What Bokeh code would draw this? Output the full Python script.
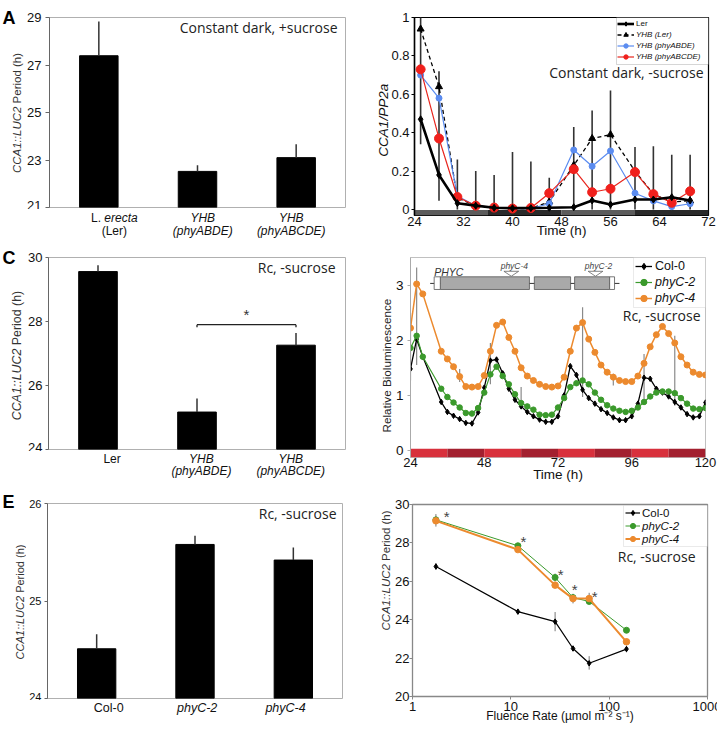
import math
from bokeh.plotting import figure
from bokeh.models import Range1d, FixedTicker, Label, Legend, LegendItem, BoxAnnotation
from bokeh.layouts import row, column
from bokeh.embed import file_html
from bokeh.resources import INLINE

SANS = "Liberation Sans"
HUM = "Open Sans"
NBSP = "\u00a0"

# ---------------- Panel A : period, constant dark, +sucrose ----------------
a_cat_line1 = [[("L. ", "normal"), ("erecta", "italic")], [("YHB", "italic")], [("YHB", "italic")]]
a_cat_line2 = [[("(Ler)", "normal")], [("(phyABDE)", "italic")], [("(phyABCDE)", "italic")]]
a_period = [27.39, 22.52, 23.10]
a_err_top = [28.83, 22.78, 23.66]
a_yticks = [21, 23, 25, 27, 29]

# ---------------- Panel B : CCA1/PP2a, constant dark, -sucrose ----------------
b_time = [25, 28, 31, 34, 37, 40, 43, 46, 50, 53, 56, 60, 63, 66, 69]
b_ler = [0.47, 0.18, 0.033, 0.02, 0.009, 0.007, 0.007, 0.009, 0.012, 0.047, 0.026, 0.052, 0.052, 0.064, 0.047]
b_yhb_ler = [0.94, 0.64, 0.06, 0.02, 0.01, 0.005, 0.005, 0.04, 0.23, 0.37, 0.39, 0.20, 0.08, 0.04, 0.045]
b_yhb_abde = [0.70, 0.58, 0.07, 0.02, 0.01, 0.005, 0.005, 0.03, 0.31, 0.225, 0.305, 0.085, 0.045, 0.015, 0.03]
b_yhb_abcde = [0.73, 0.37, 0.065, 0.02, 0.01, 0.005, 0.008, 0.085, 0.21, 0.09, 0.108, 0.195, 0.08, 0.035, 0.095]
b_err_lo = [0.34, 0.045, 0, 0, 0, 0, 0, 0, 0, 0, 0, 0, 0, 0, 0]
b_err_hi = [1.02, 0.72, 0.26, 0.20, 0.18, 0.30, 0.25, 0.165, 0.43, 0.515, 0.62, 0.325, 0.33, 0.285, 0.285]
b_xticks = [24, 32, 40, 48, 56, 64, 72]
b_yticks = [0, 0.2, 0.4, 0.6, 0.8, 1.0]
b_ytick_labels = ["0", "0.2", "0.4", "0.6", "0.8", "1"]
b_phase_start = [24, 36, 48, 60]
b_phase_end = [36, 48, 60, 72]

# ---------------- Panel C : period, Rc, -sucrose ----------------
c_cat_line1 = [[("Ler", "normal")], [("YHB", "italic")], [("YHB", "italic")]]
c_cat_line2 = [[("", "normal")], [("(phyABDE)", "italic")], [("(phyABCDE)", "italic")]]
c_period = [29.56, 25.17, 27.26]
c_err_top = [29.76, 25.59, 27.64]
c_yticks = [24, 26, 28, 30]
c_sig_pair = [2, 3]
c_sig_level = 27.9

# ---------------- Panel D : bioluminescence traces ----------------
d_time = [24, 26, 28, 34, 36, 38, 40, 42, 44, 46, 48, 50, 52, 54, 56, 58, 60, 62, 64, 66, 68, 70, 72,
          74, 76, 78, 80, 82, 84, 86, 88, 90, 92, 94, 96, 98, 100, 102, 104, 106, 108, 110, 112, 114,
          116, 118, 120]
d_col0 = [1.48, 2.02, 1.70, 0.88, 0.70, 0.63, 0.57, 0.50, 0.49, 0.69, 1.14, 1.63, 1.65, 1.40, 1.12,
          0.92, 0.80, 0.70, 0.62, 0.56, 0.52, 0.52, 0.62, 1.00, 1.53, 1.37, 1.10, 0.95, 0.85, 0.75,
          0.68, 0.60, 0.55, 0.55, 0.62, 0.85, 1.32, 1.30, 1.12, 1.05, 0.98, 0.88, 0.78, 0.66, 0.60,
          0.62, 0.87]
d_phyc2 = [1.86, 2.08, 1.70, 1.12, 0.97, 0.87, 0.78, 0.68, 0.67, 0.77, 1.05, 1.38, 1.52, 1.35, 1.20,
           1.02, 0.86, 0.80, 0.74, 0.65, 0.64, 0.65, 0.78, 0.95, 1.15, 1.22, 1.27, 1.20, 1.05, 0.92,
           0.82, 0.76, 0.72, 0.70, 0.72, 0.78, 0.88, 0.98, 1.05, 1.07, 1.07, 1.04, 0.95, 0.85, 0.76,
           0.75, 0.77]
d_phyc4 = [2.22, 3.02, 2.84, 1.80, 1.66, 1.52, 1.34, 1.16, 1.15, 1.16, 1.36, 1.80, 2.27, 2.33, 2.05,
           1.80, 1.50, 1.35, 1.27, 1.20, 1.16, 1.15, 1.17, 1.33, 1.80, 2.22, 2.32, 2.02, 1.78, 1.55,
           1.42, 1.33, 1.27, 1.25, 1.25, 1.35, 1.58, 1.88, 2.10, 2.25, 2.12, 1.95, 1.70, 1.55, 1.42,
           1.38, 1.37]
d_err_t = [24, 26, 40, 50, 60, 80, 90, 100, 110]
d_err_lo = [1.27, 1.55, 1.24, 1.20, 0.90, 0.97, 1.18, 0.88, 0.81]
d_err_hi = [2.50, 3.32, 1.48, 1.95, 1.15, 2.60, 1.39, 1.75, 2.08]
d_xticks = [24, 48, 72, 96, 120]
d_yticks = [0, 1, 2, 3]
d_phase_start = [24, 36, 48, 60, 72, 84, 96, 108]
d_phase_end = [36, 48, 60, 72, 84, 96, 108, 120]
# PHYC gene schematic (drawn in panel D data units)
phyc_span = [30.4, 92.0]
phyc_exon_start = [33.7, 64.3, 77.4]
phyc_exon_end = [62.7, 76.1, 88.8]
phyc_utr_start = [31.7, 88.8]
phyc_utr_end = [33.7, 90.4]
phyc_allele_names = ["phyC-4", "phyC-2"]
phyc_allele_pos = [56.8, 84.2]

# ---------------- Panel E : period Col-0 vs phyC ----------------
e_cat_line1 = [[("Col-0", "normal")], [("phyC-2", "italic")], [("phyC-4", "italic")]]
e_period = [24.51, 25.58, 25.42]
e_err_top = [24.66, 25.67, 25.55]
e_yticks = [24, 25, 26]

# ---------------- Panel F : period vs fluence ----------------
f_fluence = [1.73, 11.8, 28.2, 42.9, 62.6, 150]
f_col0 = [26.77, 24.42, 23.90, 22.50, 21.73, 22.47]
f_col0_lo = [26.60, 24.30, 23.40, 22.40, 21.40, 22.30]
f_col0_hi = [26.95, 24.55, 24.40, 22.60, 22.10, 22.65]
f_phyc2 = [29.20, 27.85, 26.20, 25.15, 24.95, 23.45]
f_phyc2_lo = [29.05, 27.75, 26.00, 25.00, 24.85, 23.35]
f_phyc2_hi = [29.35, 27.95, 26.40, 25.30, 25.05, 23.55]
f_phyc4 = [29.15, 27.65, 25.80, 25.10, 25.10, 22.85]
f_phyc4_lo = [28.85, 27.55, 25.70, 24.85, 24.80, 22.70]
f_phyc4_hi = [29.50, 27.80, 25.95, 25.35, 25.40, 23.00]
f_star_x = [2.22, 13.4, 32.1, 44.5, 71.3]
f_star_y = [29.51, 28.21, 26.53, 25.73, 25.38]
f_xticks = [1, 10, 100, 1000]
f_yticks = [20, 22, 24, 26, 28, 30]

# ---------------- helpers ----------------
AW = {' ': 278, '(': 333, ')': 333, '.': 278, ':': 278, '-': 333, '/': 278, ',': 278,
      'A': 667, 'B': 667, 'C': 722, 'D': 722, 'E': 667, 'F': 611, 'H': 722, 'L': 556, 'P': 667,
      'R': 722, 'T': 611, 'U': 722, 'Y': 667,
      'a': 556, 'b': 556, 'c': 500, 'd': 556, 'e': 556, 'f': 278, 'g': 556, 'h': 556, 'i': 222,
      'k': 500, 'l': 222, 'm': 833, 'n': 556, 'o': 556, 'p': 556, 'r': 333, 's': 500, 't': 278,
      'u': 556, 'v': 500, 'y': 500}


def tw(s, size):
    return sum(AW.get(ch, 556) for ch in s) * size / 1000.0


def add_label(p, text, x, y, size, font=SANS, style="normal", align="left", baseline="middle",
              color="#111", xu="screen", yu="screen", angle=0.0, x_offset=0, y_offset=0):
    p.add_layout(Label(x=x, y=y, x_units=xu, y_units=yu, text=text, text_font=font,
                       text_font_size=f"{size}px", text_font_style=style, text_align=align,
                       text_baseline=baseline, text_color=color, angle=angle,
                       x_offset=x_offset, y_offset=y_offset))


def hmixed(p, parts, x, y, size, color="#111"):
    total = sum(tw(t, size) for t, _ in parts)
    off = -total / 2.0
    for t, st in parts:
        if t.strip():
            add_label(p, t.rstrip(), x, y, size, style=st, xu="data", x_offset=off, color=color)
        off += tw(t, size)


def vmixed(p, parts, x, yc, size, color="#333"):
    total = sum(tw(t, size) for t, _ in parts)
    y = yc - total / 2.0
    for t, st in parts:
        add_label(p, t.rstrip(), x, y, size, style=st, angle=math.pi / 2, color=color)
        y += tw(t, size)


def mkfig(fw, fh, bl, br, bt, bb, xr, yr, x_axis_type="linear", x_axis_location="below"):
    p = figure(frame_width=fw, frame_height=fh, min_border_left=bl, min_border_right=br,
               min_border_top=bt, min_border_bottom=bb, x_range=xr, y_range=yr,
               x_axis_type=x_axis_type, x_axis_location=x_axis_location,
               toolbar_location=None, output_backend="svg", title=None)
    p.xgrid.visible = False
    p.ygrid.visible = False
    p.background_fill_color = "white"
    p.border_fill_color = "white"
    return p


def textfig(w, h, xr=None):
    p = figure(width=w, height=h, x_range=xr if xr is not None else Range1d(0, 1),
               y_range=Range1d(0, 1), x_axis_location=None, y_axis_location=None, min_border=0,
               toolbar_location=None, output_backend="svg", title=None)
    p.outline_line_color = None
    p.xgrid.visible = False
    p.ygrid.visible = False
    p.border_fill_color = "white"
    return p


def style_axis(ax, ticks, size, tick_out, standoff, line_color, label_color="#111", overrides=None,
               line_width=1):
    ax.ticker = FixedTicker(ticks=ticks)
    ax.major_label_text_font = SANS
    ax.major_label_text_font_size = f"{size}px"
    ax.major_label_text_color = label_color
    ax.axis_line_color = line_color
    ax.axis_line_width = line_width
    ax.major_tick_line_color = line_color if tick_out > 0 else None
    ax.major_tick_out = tick_out
    ax.major_tick_in = 0
    ax.minor_tick_line_color = None
    ax.major_label_standoff = standoff
    if overrides:
        ax.major_label_overrides = overrides


def axis_title(ax, text, size, standoff, style="normal", color="#111"):
    ax.axis_label = text
    ax.axis_label_text_font = SANS
    ax.axis_label_text_font_size = f"{size}px"
    ax.axis_label_text_font_style = style
    ax.axis_label_text_color = color
    ax.axis_label_standoff = standoff


def boxed_legend(p, groups, box, x0, row_h, size, glyph_w, standoff, line_color="#999"):
    left, right, top, bottom = box
    p.add_layout(BoxAnnotation(left=left, right=right, top=top, bottom=bottom,
                               left_units="screen", right_units="screen", top_units="screen",
                               bottom_units="screen", fill_color="white", fill_alpha=1.0,
                               line_color=line_color, line_width=1))
    y = top - 1
    for style, items in groups:
        h = len(items) * row_h
        leg = Legend(items=[LegendItem(label=l, renderers=r) for l, r in items],
                     location=(x0, y - h), orientation="vertical", padding=0, spacing=0,
                     margin=0, glyph_width=glyph_w, glyph_height=row_h, label_height=row_h,
                     label_standoff=standoff, label_text_font=SANS,
                     label_text_font_size=f"{size}px", label_text_font_style=style,
                     label_text_color="#111", border_line_color=None, background_fill_alpha=0)
        p.add_layout(leg)
        y -= h


def left_block(wl, H, ylab_parts, ylab_x, ylab_yc, ylab_size, letter, letter_x, letter_base,
               ylab_color="#333"):
    t = textfig(wl, H)
    if ylab_parts:
        vmixed(t, ylab_parts, ylab_x, ylab_yc, ylab_size, color=ylab_color)
    add_label(t, letter, letter_x, H - letter_base, 18, style="bold", baseline="alphabetic",
              color="black")
    return t


def bar_block(W, H, wl, fx0, fw, fy0, fh, hb, vals, tops, yr, yticks, tick_size, tick_out, standoff,
              lines, line_tops, cat_size, ylab_x, ylab_yc, ylab_size, note, note_xy, letter,
              letter_xy):
    n = len(vals)
    xs = [i + 1 for i in range(n)]
    bl = fx0 - wl
    br = W - fx0 - fw
    bb = H - hb - fy0 - fh
    p = mkfig(fw, fh, bl, br, fy0, bb, Range1d(0.5, n + 0.5), Range1d(*yr), x_axis_location=None)
    p.vbar(x=xs, top=vals, bottom=yr[0], width=0.39, fill_color="black", line_color="black")
    p.segment(x0=xs, y0=vals, x1=xs, y1=tops, line_color="#333", line_width=1.5)
    style_axis(p.yaxis[0], yticks, tick_size, tick_out, standoff, "#666")
    add_label(p, note, note_xy[0], note_xy[1], 14, font=HUM, align="right", color="#222")
    p.outline_line_color = "#b0b0b0"
    k = fw / float(n)
    bot = textfig(W - wl, hb, Range1d(0.5 - bl / k, n + 0.5 + br / k))
    for li, lbls in enumerate(lines):
        for i, parts in enumerate(lbls):
            hmixed(bot, parts, xs[i], hb - line_tops[li], cat_size)
    left = left_block(wl, H, [("CCA1::LUC2 ", "italic"), ("Period (h)", "normal")],
                      ylab_x, ylab_yc, ylab_size, letter, letter_xy[0], letter_xy[1])
    return row(left, column(p, bot)), p


# ---------------- A (0,0) 352x240 ----------------
blockA, pA = bar_block(352, 240, 24, 47, 296, 17, 190, 31, a_period, a_err_top, (21, 29), a_yticks,
                       13, 4, 4, [a_cat_line1, a_cat_line2], [8, 21.5], 12, 16.5, 127.5, 11.5,
                       "Constant dark, +sucrose", (288, 180), "A", (2, 17))

# ---------------- B (352,0) 365x240 ----------------
pB = mkfig(294, 198, 36, 16, 17, 25, Range1d(24, 72), Range1d(-0.03125, 1.0))
pB.quad(left=b_phase_start, right=b_phase_end, bottom=-0.03125, top=-0.002,
        fill_color=["#5c5c5c", "#2a2a2a", "#5c5c5c", "#2a2a2a"], line_color=None)
pB.segment(x0=b_time, y0=b_err_lo, x1=b_time, y1=b_err_hi, line_color="#333", line_width=1.6)
r_yl = pB.line(b_time, b_yhb_ler, line_color="black", line_width=1.3, line_dash="4 3")
s_yl = pB.scatter(b_time, b_yhb_ler, marker="triangle", size=7, fill_color="black", line_color="black")
r_ab = pB.line(b_time, b_yhb_abde, line_color="#5b8cf0", line_width=1.2)
s_ab = pB.scatter(b_time, b_yhb_abde, marker="circle", size=6, fill_color="#5b8cf0", line_color="#5b8cf0")
r_ac = pB.line(b_time, b_yhb_abcde, line_color="#e8261e", line_width=1.2)
s_ac = pB.scatter(b_time, b_yhb_abcde, marker="circle", size=9, fill_color="#f0201c", line_color="#f0201c")
r_le = pB.line(b_time, b_ler, line_color="black", line_width=2.6)
s_le = pB.scatter(b_time, b_ler, marker="diamond", size=7, fill_color="black", line_color="black")
style_axis(pB.yaxis[0], b_yticks, 13, 3, 2, "black", overrides=dict(zip(b_yticks, b_ytick_labels)),
           line_width=1.5)
axis_title(pB.yaxis[0], "CCA1/PP2a" + NBSP * 2, 13.5, -3, style="italic")
style_axis(pB.xaxis[0], b_xticks, 13, 0, 1, None)
axis_title(pB.xaxis[0], "Time (h)", 13.5, -6)
pB.outline_line_color = "black"
pB.outline_line_width = 1.2
boxed_legend(pB, [("normal", [("Ler", [r_le, s_le])]),
                  ("italic", [("YHB (Ler)", [r_yl, s_yl]), ("YHB (phyABDE)", [r_ab, s_ab]),
                              ("YHB (phyABCDE)", [r_ac, s_ac])])],
             (202, 294, 198, 151), 203, 11, 8, 17, 2, line_color="#777")
add_label(pB, "Constant dark, -sucrose", 289, 143, 14, font=HUM, align="right", color="#222")
leftB = left_block(19, 240, None, 0, 0, 0, "B", 6, 17)
blockB = row(leftB, pB)

# ---------------- C (0,240) 352x244 ----------------
blockC, pC = bar_block(352, 244, 25, 46, 297, 17, 192, 33, c_period, c_err_top, (24, 30), c_yticks,
                       13, 3, 3, [c_cat_line1, c_cat_line2], [7.5, 19.5], 12, 16.5, 129, 12.4,
                       "Rc, -sucrose", (287, 182), "C", (2, 17))
pC.segment(x0=[c_sig_pair[0]], y0=[c_sig_level], x1=[c_sig_pair[1]], y1=[c_sig_level],
           line_color="#222", line_width=1.3)
pC.segment(x0=c_sig_pair, y0=[c_sig_level] * 2, x1=c_sig_pair, y1=[c_sig_level - 0.08] * 2,
           line_color="#222", line_width=1.3)
add_label(pC, "*", sum(c_sig_pair) / 2.0, c_sig_level + 0.4, 15, xu="data", yu="data",
          align="center", color="#333", y_offset=-3)

# ---------------- D (352,240) 365x244 ----------------
pD = mkfig(295, 200, 37, 14, 17, 27, Range1d(24, 120), Range1d(-0.127, 3.5))
pD.quad(left=d_phase_start, right=d_phase_end, bottom=-0.127, top=0.03,
        fill_color=["#d8303c", "#a3202f"] * 4, line_color=None)
pD.segment(x0=d_err_t, y0=d_err_lo, x1=d_err_t, y1=d_err_hi, line_color="#8a8a8a", line_width=1.2)
r_c0 = pD.line(d_time, d_col0, line_color="black", line_width=1.3)
s_c0 = pD.scatter(d_time, d_col0, marker="diamond", size=5.5, fill_color="black", line_color="black")
r_c2 = pD.line(d_time, d_phyc2, line_color="#3b9a2c", line_width=1.2)
s_c2 = pD.scatter(d_time, d_phyc2, marker="circle", size=5.5, fill_color="#3b9a2c", line_color="#3b9a2c")
r_c4 = pD.line(d_time, d_phyc4, line_color="#ec8a2e", line_width=1.5)
s_c4 = pD.scatter(d_time, d_phyc4, marker="circle", size=6, fill_color="#ec8a2e", line_color="#ec8a2e")
pD.segment(x0=[phyc_span[0]], y0=[3.03], x1=[phyc_span[1]], y1=[3.03], line_color="#333", line_width=1)
pD.quad(left=phyc_exon_start, right=phyc_exon_end, bottom=2.92, top=3.15, fill_color="#a9a9a9",
        line_color="#555", line_width=0.8)
pD.quad(left=phyc_utr_start, right=phyc_utr_end, bottom=2.92, top=3.15, fill_color="white",
        line_color="#555", line_width=0.8)
pD.patches(xs=[[a - 2.4, a + 2.4, a] for a in phyc_allele_pos],
           ys=[[3.25, 3.25, 3.16] for a in phyc_allele_pos],
           fill_color="white", line_color="#666", line_width=0.8)
for nm, a in zip(phyc_allele_names, phyc_allele_pos):
    add_label(pD, nm, a + 1.0, 3.34, 8.5, style="italic", xu="data", yu="data", align="center",
              color="#444")
add_label(pD, "PHYC", phyc_utr_start[0], 3.23, 10.5, style="italic", xu="data", yu="data",
          align="left", color="#333")
style_axis(pD.yaxis[0], d_yticks, 13.5, 3, 4, "#aaa")
axis_title(pD.yaxis[0], "Relative Bioluminescence" + NBSP * 5, 11.7, 0, color="#222")
style_axis(pD.xaxis[0], d_xticks, 13, 0, 0, None)
axis_title(pD.xaxis[0], "Time (h)", 13.5, -3)
pD.outline_line_color = "#c0c0c0"
boxed_legend(pD, [("normal", [("Col-0", [r_c0, s_c0])]),
                  ("italic", [("phyC-2", [r_c2, s_c2]), ("phyC-4", [r_c4, s_c4])])],
             (223, 295, 200, 150), 225, 16, 12.5, 17, 3, line_color="#bbb")
add_label(pD, "Rc, -sucrose", 290, 142, 14, font=HUM, align="right", color="#222")
leftD = left_block(19, 244, None, 0, 0, 0, "D", 6, 17)
blockD = row(leftD, pD)

# ---------------- E (0,484) 352x247 ----------------
blockE, pE = bar_block(352, 247, 26, 45, 295, 19, 195, 31, e_period, e_err_top, (24, 26), e_yticks,
                       11, 3, 3, [e_cat_line1], [7.5], 12.5, 19, 129.5, 11,
                       "Rc, -sucrose", (289, 185), "E", (2, 17))

# ---------------- F (352,484) 365x247 ----------------
pF = mkfig(295, 192, 18, 14, 20, 35, Range1d(1, 1000), Range1d(20, 30), x_axis_type="log")
pF.segment(x0=f_fluence, y0=f_col0_lo, x1=f_fluence, y1=f_col0_hi, line_color="#777", line_width=1)
pF.segment(x0=f_fluence, y0=f_phyc2_lo, x1=f_fluence, y1=f_phyc2_hi, line_color="#777", line_width=1)
pF.segment(x0=f_fluence, y0=f_phyc4_lo, x1=f_fluence, y1=f_phyc4_hi, line_color="#777", line_width=1)
rf0 = pF.line(f_fluence, f_col0, line_color="black", line_width=1.2)
sf0 = pF.scatter(f_fluence, f_col0, marker="diamond", size=5.5, fill_color="black", line_color="black")
rf2 = pF.line(f_fluence, f_phyc2, line_color="#3b9a2c", line_width=1)
sf2 = pF.scatter(f_fluence, f_phyc2, marker="circle", size=6, fill_color="#3b9a2c", line_color="#3b9a2c")
rf4 = pF.line(f_fluence, f_phyc4, line_color="#ec8a2e", line_width=2)
sf4 = pF.scatter(f_fluence, f_phyc4, marker="circle", size=6.5, fill_color="#ec8a2e", line_color="#ec8a2e")
for sx, sy in zip(f_star_x, f_star_y):
    add_label(pF, "*", sx, sy, 15, xu="data", yu="data", align="center", color="#444", y_offset=-3)
style_axis(pF.yaxis[0], f_yticks, 13, 3, 0, "#888")
style_axis(pF.xaxis[0], f_xticks, 13, 3, 2, "#888",
           overrides={1: "1", 10: "10", 100: "100", 1000: "1000"})
axis_title(pF.xaxis[0], "Fluence Rate (\u00b5mol m\u207b\u00b2 s\u207b\u00b9)", 12, -5)
pF.outline_line_color = "#888"
pF.outline_line_width = 1.3
boxed_legend(pF, [("normal", [("Col-0", [rf0, sf0])]),
                  ("italic", [("phyC-2", [rf2, sf2]), ("phyC-4", [rf4, sf4])])],
             (211, 295, 191, 150), 213, 13, 11.5, 15, 2, line_color="#bbb")
add_label(pF, "Rc, -sucrose", 283, 140, 14, font=HUM, align="right", color="#222")
leftF = left_block(38, 247, [("CCA1::LUC2 ", "italic"), ("Period (h)", "normal")], 31, 126, 11.5,
                   "F", 6, 17)
blockF = row(leftF, pF)

layout = column(row(blockA, blockB), row(blockC, blockD), row(blockE, blockF))
open("out.html", "w").write(file_html(layout, INLINE))
